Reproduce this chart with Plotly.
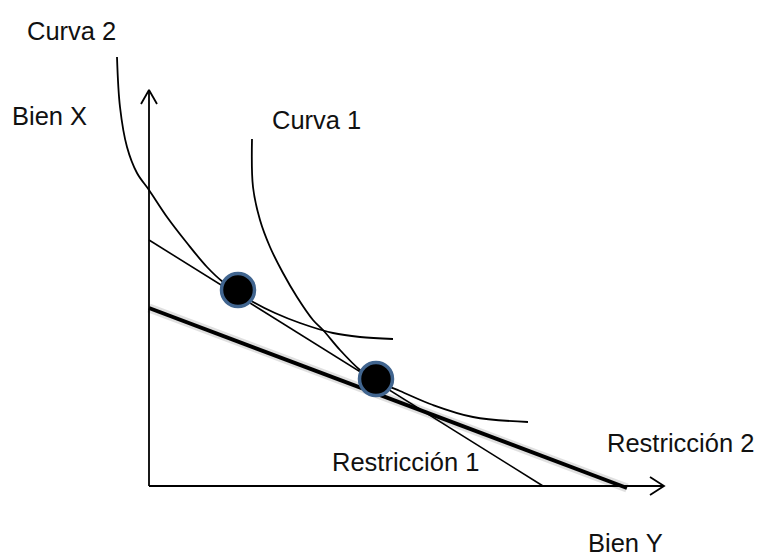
import plotly.graph_objects as go

# Indifference curves (Bien Y on x, Bien X on y)
curva2_x = [-32, -29, -22, -12, 0, 18, 38, 58, 74, 89, 106, 126, 151, 184, 211, 244]
curva2_y = [429, 379, 339, 313, 296, 269, 243, 219, 204, 194, 183, 173, 163, 153, 149, 147]

curva1_x = [103, 104, 111, 121, 134, 148, 164, 174, 191, 211, 227, 251, 284, 324, 379]
curva1_y = [347, 299, 266, 239, 213, 189, 166, 156, 136, 116, 105, 95, 81, 69, 64]

# Budget constraints
restr1_x = [0, 394]
restr1_y = [246, 0]
restr2_x = [0, 478]
restr2_y = [178, -2]

# Equilibrium points
puntos_x = [89, 227]
puntos_y = [196, 107]

# Axes extent
eje_x_max = 515
eje_y_max = 396

labels = ["Curva 2", "Bien X", "Curva 1", "Restricción 1", "Restricción 2", "Bien Y"]
label_x = [-78, -100, 167, 256, 531, 476]
label_y = [455, 370, 366, 24, 43, -57]

fig = go.Figure()

black = "#000000"

# axes with open arrowheads
fig.add_trace(go.Scatter(x=[0, 0, None, -8, 0, 8], y=[0, eje_y_max, None, eje_y_max - 14, eje_y_max, eje_y_max - 14],
                         mode="lines", line=dict(color=black, width=1.8), hoverinfo="skip"))
fig.add_trace(go.Scatter(x=[0, eje_x_max, None, eje_x_max - 14, eje_x_max, eje_x_max - 14], y=[0, 0, None, 9, 0, -9],
                         mode="lines", line=dict(color=black, width=1.8), hoverinfo="skip"))

# curves
fig.add_trace(go.Scatter(x=curva2_x, y=curva2_y, mode="lines", line=dict(color=black, width=1.8, shape="spline", smoothing=1.0), hoverinfo="skip"))
fig.add_trace(go.Scatter(x=curva1_x, y=curva1_y, mode="lines", line=dict(color=black, width=1.8, shape="spline", smoothing=1.0), hoverinfo="skip"))

# constraints
fig.add_trace(go.Scatter(x=restr1_x, y=restr1_y, mode="lines", line=dict(color=black, width=1.6), hoverinfo="skip"))
fig.add_trace(go.Scatter(x=restr2_x, y=restr2_y, mode="lines", line=dict(color="rgba(0,0,0,0.12)", width=9), hoverinfo="skip"))
fig.add_trace(go.Scatter(x=restr2_x, y=restr2_y, mode="lines", line=dict(color=black, width=4), hoverinfo="skip"))

# points
fig.add_trace(go.Scatter(x=puntos_x, y=puntos_y, mode="markers",
                         marker=dict(size=33, color=black, line=dict(color="#41658f", width=3.5)), hoverinfo="skip"))

for t, x, y in zip(labels, label_x, label_y):
    fig.add_annotation(x=x, y=y, text=t, showarrow=False, xanchor="center", yanchor="middle",
                       font=dict(family="Liberation Sans, Arial, sans-serif", size=25.5, color="#111111"))

fig.update_layout(
    width=758, height=559, margin=dict(l=0, r=0, t=0, b=0),
    paper_bgcolor="white", plot_bgcolor="white", showlegend=False,
    xaxis=dict(range=[-149, 609], visible=False, fixedrange=True),
    yaxis=dict(range=[-73, 486], visible=False, fixedrange=True),
)

fig.write_html("out.html", config={"displayModeBar": False},
               post_script="document.body.style.margin='0';document.body.style.overflow='hidden';")
